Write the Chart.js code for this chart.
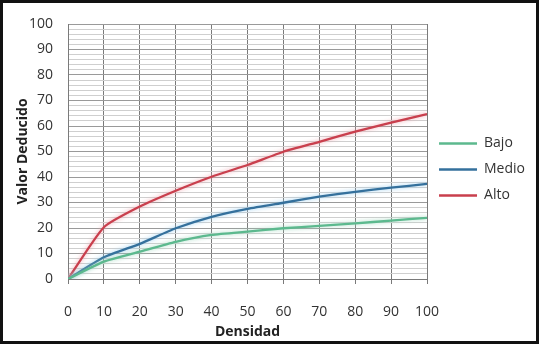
<!DOCTYPE html>
<html>
<head>
<meta charset="utf-8">
<script src="https://cdn.jsdelivr.net/npm/chart.js@4/dist/chart.umd.min.js"></script>
<style>
  html, body { margin: 0; padding: 0; background: #fff; }
  #wrap { position: relative; width: 539px; height: 344px; background: #fff; }
  #frame { position: absolute; left: 0; top: 0; width: 539px; height: 344px; box-sizing: border-box; border: 3px solid #111; pointer-events: none; }
  canvas { position: absolute; left: 0; top: 0; }
</style>
</head>
<body>
<div id="wrap">
  <canvas id="chart" width="539" height="344"></canvas>
  <div id="frame"></div>
</div>
<script>
// Densidad (x) and deducted values for each severity level
const densidad = [0, 10, 20, 30, 40, 50, 60, 70, 80, 90, 100];
const bajo  = [0, 6.8, 10.7, 14.6, 17.3, 18.6, 19.9, 20.8, 21.8, 22.9, 24.0];
const medio = [0, 8.5, 13.8, 19.9, 24.4, 27.5, 29.9, 32.3, 34.2, 35.8, 37.3];
const alto  = [0, 20.3, 28.4, 34.6, 40.1, 44.7, 49.9, 53.8, 57.8, 61.3, 64.7];
const yTicks = [0, 10, 20, 30, 40, 50, 60, 70, 80, 90, 100];

const pts = arr => densidad.map((d, i) => ({ x: d, y: arr[i] }));
const FONT = "'Open Sans', 'Liberation Sans', sans-serif";

const series = [
  { label: 'Bajo',  data: pts(bajo),  borderColor: '#5cb98e', glow: 'rgba(160,215,190,0.9)' },
  { label: 'Medio', data: pts(medio), borderColor: '#34709c', glow: 'rgba(150,205,240,0.95)' },
  { label: 'Alto',  data: pts(alto),  borderColor: '#c93f4d', glow: 'rgba(240,160,170,0.9)' }
].map(s => Object.assign(s, {
  borderWidth: 2.3,
  pointRadius: 0,
  fill: false,
  tension: 0.18
}));

// soft halo around each line
const glowPlugin = {
  id: 'glow',
  beforeDatasetDraw(chart, args) {
    const ctx = chart.ctx;
    ctx.save();
    ctx.shadowColor = args.meta._dataset.glow;
    ctx.shadowBlur = 4;
  },
  afterDatasetDraw(chart) {
    chart.ctx.restore();
  }
};

// lift the legend block so it sits a little above the vertical middle
const legendLift = {
  id: 'legendLift',
  afterLayout(chart) {
    const lg = chart.legend;
    if (lg) { lg.bottom -= 29; lg.height -= 29; }
  }
};

new Chart(document.getElementById('chart'), {
  type: 'line',
  data: { datasets: series },
  plugins: [glowPlugin, legendLift],
  options: {
    responsive: false,
    animation: false,
    layout: { padding: { top: 24, right: 4, bottom: 0, left: 0 } },
    plugins: {
      tooltip: { enabled: false },
      legend: {
        position: 'right',
        labels: {
          usePointStyle: true,
          pointStyle: 'line',
          pointStyleWidth: 38,
          padding: 12,
          color: '#333',
          font: { family: FONT, size: 14 }
        }
      }
    },
    scales: {
      x: {
        type: 'linear',
        min: 0, max: 100,
        afterFit: s => { s.height = 65; },
        ticks: { stepSize: 10, color: '#333', font: { family: FONT, size: 14 }, padding: 20 },
        grid: { color: '#7a7a7a', lineWidth: 1, tickLength: 5 },
        border: { color: '#7a7a7a' },
        title: { display: true, text: 'Densidad', color: '#222', font: { family: FONT, size: 14, weight: 'bold' }, padding: { top: 1 } }
      },
      y: {
        min: 0, max: 100,
        afterFit: s => { s.width = 68; },
        afterBuildTicks: s => {
          const t = [];
          for (let v = 0; v <= 100; v += 2) t.push({ value: v });
          s.ticks = t;
        },
        ticks: {
          autoSkip: false,
          color: '#333',
          font: { family: FONT, size: 14 },
          padding: 15,
          callback: v => (yTicks.includes(v) ? String(v) : '')
        },
        grid: {
          drawTicks: false,
          color: c => (c.tick && c.tick.value % 10 === 0 ? '#9a9a9a' : '#cfcfcf'),
          lineWidth: 1
        },
        border: { color: '#7a7a7a' },
        title: { display: true, text: 'Valor Deducido', color: '#222', font: { family: FONT, size: 14, weight: 'bold' }, padding: { top: 15 } }
      }
    }
  }
});
</script>
</body>
</html>
